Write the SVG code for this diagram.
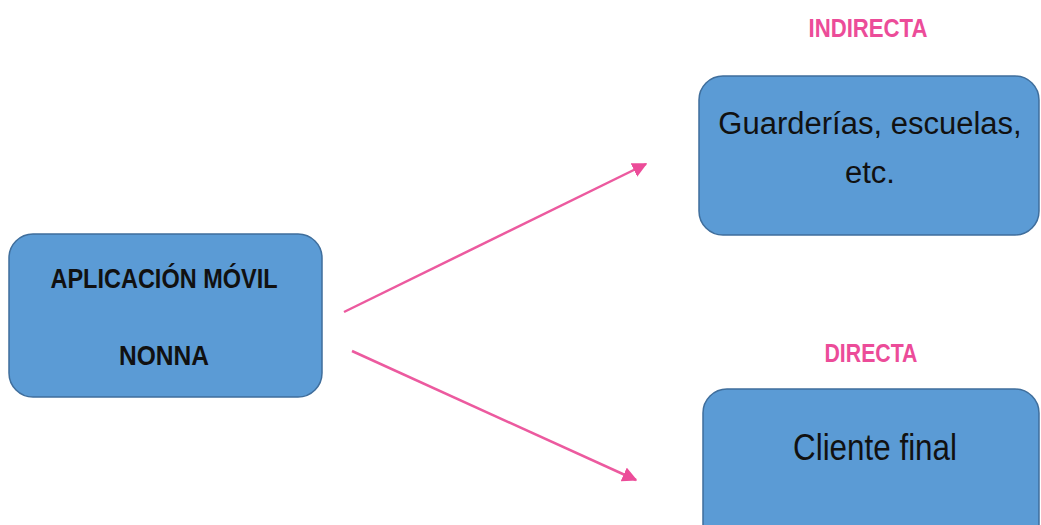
<svg xmlns="http://www.w3.org/2000/svg" width="1041" height="525" viewBox="0 0 1041 525">
  <style>
    .box { fill: #5B9BD5; stroke: #3F6E9C; stroke-width: 1.5; }
    .title { font-family: "Liberation Sans", Arial, sans-serif; font-weight: bold; fill: #111111; }
    .body { font-family: "Liberation Sans", Arial, sans-serif; fill: #111111; }
    .tag { font-family: "Liberation Sans", Arial, sans-serif; font-weight: bold; fill: #EC4C99; }
    .link { stroke: #EC5A9F; stroke-width: 2.5; fill: none; }
  </style>
  <defs>
    <marker id="arrow" viewBox="0 0 10 10" refX="9" refY="5" markerWidth="6" markerHeight="6" orient="auto" markerUnits="strokeWidth">
      <path d="M0,0 L10,5 L0,10 Z" fill="#EC4C99"/>
    </marker>
  </defs>
  <rect width="1041" height="525" fill="#FFFFFF"/>

  <g id="connectors">
    <line class="link" x1="344" y1="312" x2="646" y2="164" marker-end="url(#arrow)"/>
    <line class="link" x1="352" y1="351" x2="636" y2="480" marker-end="url(#arrow)"/>
  </g>

  <g id="app">
    <rect class="box" x="9" y="234" width="313" height="163" rx="24" ry="24"/>
    <text class="title" x="164" y="288" font-size="27" text-anchor="middle" textLength="227" lengthAdjust="spacingAndGlyphs">APLICACIÓN MÓVIL</text>
    <text class="title" x="164" y="365" font-size="27" text-anchor="middle" textLength="90" lengthAdjust="spacingAndGlyphs">NONNA</text>
  </g>

  <g id="indirecta">
    <text class="tag" x="868" y="37" font-size="25" text-anchor="middle" textLength="119" lengthAdjust="spacingAndGlyphs">INDIRECTA</text>
    <rect class="box" x="699" y="76" width="340" height="159" rx="24" ry="24"/>
    <text class="body" x="870" y="134" font-size="31" text-anchor="middle">Guarderías, escuelas,</text>
    <text class="body" x="870" y="183" font-size="31" text-anchor="middle">etc.</text>
  </g>

  <g id="directa">
    <text class="tag" x="871" y="362" font-size="25" text-anchor="middle" textLength="93" lengthAdjust="spacingAndGlyphs">DIRECTA</text>
    <rect class="box" x="703" y="389" width="336" height="160" rx="24" ry="24"/>
    <text class="body" x="875" y="460" font-size="36" text-anchor="middle" textLength="164" lengthAdjust="spacingAndGlyphs">Cliente final</text>
  </g>
</svg>
